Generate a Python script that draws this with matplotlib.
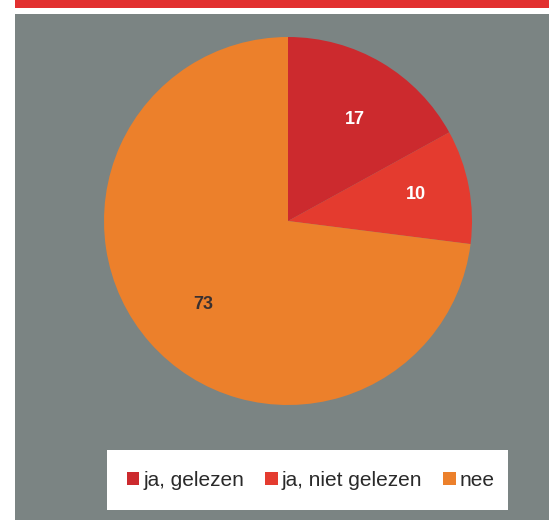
import numpy as np
import matplotlib.pyplot as plt
from matplotlib.patches import Rectangle

labels = ['ja, gelezen', 'ja, niet gelezen', 'nee']
values = [17, 10, 73]
colors = ['#cc2a2e', '#e43b2f', '#ec802b']
label_colors = ['white', 'white', '#3a3030']

plt.rcParams['font.family'] = ['Liberation Sans', 'DejaVu Sans']

W, H = 549, 520
fig = plt.figure(figsize=(W / 100, H / 100), dpi=100)
fig.patch.set_facecolor('white')

def px(x0, y0, x1, y1):
    # pixel box (top-left origin) -> figure fraction rect
    return [x0 / W, 1 - y1 / H, (x1 - x0) / W, (y1 - y0) / H]

# red header strip and grey panel
fig.patches.append(Rectangle((15 / W, 1 - 8 / H), 1, 8 / H, transform=fig.transFigure,
                             facecolor='#e2302f', edgecolor='none'))
bg = fig.add_axes(px(15, 14, W, H))
bg.set_facecolor('#7b8483')
bg.set_xticks([])
bg.set_yticks([])
for s in bg.spines.values():
    s.set_visible(False)

# pie
cx, cy, r = 288, 221, 184
ax = fig.add_axes(px(cx - r, cy - r, cx + r, cy + r))
wedges, _ = ax.pie(values, colors=colors, startangle=90, counterclock=False,
                   radius=1.0, wedgeprops=dict(linewidth=0))
ax.set_xlim(-1, 1)
ax.set_ylim(-1, 1)
ax.set_aspect('equal')
ax.axis('off')

# value labels: radius and small angle nudge per slice
label_r = [0.66, 0.71, 0.645]
label_nudge = [-3, 1, 3]
start = 90.0
for v, c, lr, dn in zip(values, label_colors, label_r, label_nudge):
    mid = np.deg2rad(start - v / sum(values) * 360 / 2 + dn)
    start -= v / sum(values) * 360
    ax.text(lr * np.cos(mid), lr * np.sin(mid), str(v), ha='center', va='center',
            fontsize=13, fontweight='bold', color=c)

# legend box
fig.patches.append(Rectangle((107 / W, 1 - 510 / H), 401 / W, 60 / H,
                             transform=fig.transFigure, facecolor='white', edgecolor='none'))
fig.legend(wedges, labels, loc='center', bbox_to_anchor=(311 / W, 1 - 480 / H), ncol=3,
           frameon=False, fontsize=15, handlelength=0.6, handleheight=0.6,
           handletextpad=0.2, columnspacing=1.0, labelcolor='#2a2a2a')

fig.savefig('out.png', dpi=100, facecolor='white')
